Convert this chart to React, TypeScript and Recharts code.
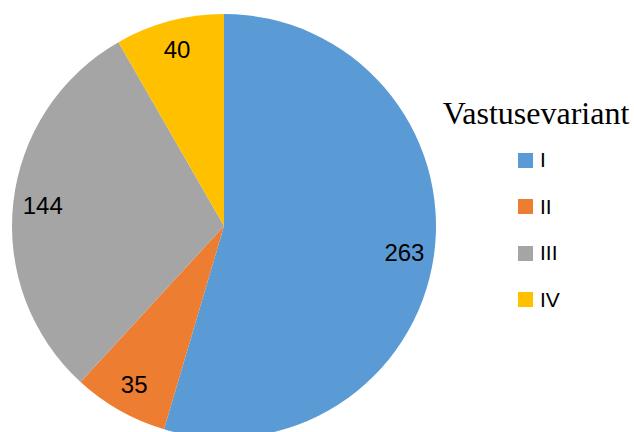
import { PieChart, Pie, Cell, Legend } from "recharts"

const categories = ["I", "II", "III", "IV"]
const values = [263, 35, 144, 40]
const colors = ["#5B9BD5", "#ED7D31", "#A5A5A5", "#FFC000"]
const legendTitle = "Vastusevariant"

const data = categories.map((name, i) => ({ name, value: values[i] }))

const RADIAN = Math.PI / 180

const renderLabel = (props: any) => {
  const { cx, cy, midAngle, outerRadius, value } = props
  const r = outerRadius * 0.86
  const x = cx + r * Math.cos(-midAngle * RADIAN)
  const y = cy + r * Math.sin(-midAngle * RADIAN)
  return (
    <text
      x={x}
      y={y}
      fill="#000000"
      textAnchor="middle"
      dominantBaseline="central"
      fontFamily="Liberation Sans, Arial, sans-serif"
      fontSize={24}
    >
      {value}
    </text>
  )
}

const renderLegend = () => (
  <div style={{ width: 204 }}>
    <div
      style={{
        fontFamily: "Liberation Serif, Times New Roman, serif",
        fontSize: 32,
        lineHeight: "36px",
        textAlign: "center",
        color: "#000",
        marginLeft: 8,
      }}
    >
      {legendTitle}
    </div>
    <div style={{ marginTop: 6, paddingLeft: 88 }}>
      {categories.map((c, i) => (
        <div
          key={c}
          style={{ display: "flex", alignItems: "center", height: 46.5 }}
        >
          <span
            style={{ width: 15, height: 15, background: colors[i], display: "inline-block", marginRight: 7 }}
          />
          <span
            style={{ fontFamily: "Liberation Sans, Arial, sans-serif", fontSize: 21, color: "#000" }}
          >
            {c}
          </span>
        </div>
      ))}
    </div>
  </div>
)

export default function App() {
  return (
    <div style={{ position: "absolute", left: 0, top: 0, width: 634, height: 432, background: "#fff" }}>
      <PieChart width={634} height={432}>
        <Pie
          data={data}
          dataKey="value"
          nameKey="name"
          cx={219}
          cy={221}
          outerRadius={212}
          startAngle={90}
          endAngle={-270}
          stroke="none"
          label={renderLabel}
          labelLine={false}
          isAnimationActive={false}
        >
          {data.map((d, i) => (
            <Cell key={d.name} fill={colors[i]} />
          ))}
        </Pie>
        <Legend
          content={renderLegend}
          wrapperStyle={{ position: "absolute", left: 430, top: 95, width: 204 }}
        />
      </PieChart>
    </div>
  )
}
